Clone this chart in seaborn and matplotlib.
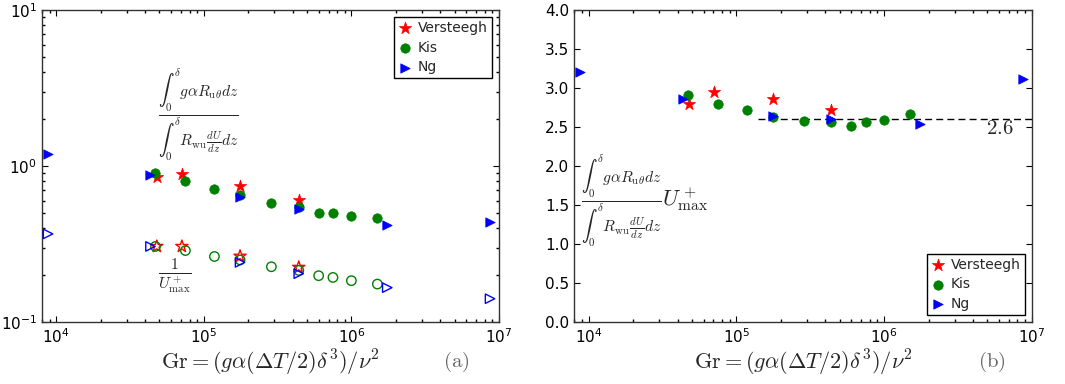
import numpy as np
import pandas as pd
import matplotlib
matplotlib.use("Agg")
import matplotlib.pyplot as plt
import seaborn as sns
from matplotlib.ticker import LogLocator, NullFormatter, MultipleLocator

# ---------------- data ----------------
series = ["Versteegh", "Kis", "Ng"]
gr_versteegh = [4.8e4, 7.1e4, 1.76e5, 4.4e5]
gr_kis = [4.7e4, 7.5e4, 1.18e5, 1.76e5, 2.87e5, 4.4e5, 6.0e5, 7.5e5, 1.0e6, 1.5e6]
gr_ng = [8.8e3, 4.35e4, 1.76e5, 4.4e5, 1.75e6, 8.7e6]

ratio_versteegh = [0.855, 0.893, 0.748, 0.606]
ratio_kis = [0.90, 0.80, 0.716, 0.652, 0.583, 0.544, 0.50, 0.496, 0.477, 0.467]
ratio_ng = [1.187, 0.88, 0.637, 0.533, 0.419, 0.44]

inv_umax_versteegh = [0.305, 0.305, 0.264, 0.224]
inv_umax_kis = [0.305, 0.287, 0.263, 0.25, 0.226, 0.214, 0.198, 0.193, 0.184, 0.175]
inv_umax_ng = [0.367, 0.305, 0.241, 0.204, 0.166, 0.141]

scaled_versteegh = [2.80, 2.946, 2.864, 2.719]
scaled_kis = [2.916, 2.80, 2.715, 2.634, 2.574, 2.570, 2.519, 2.566, 2.591, 2.672]
scaled_ng = [3.206, 2.860, 2.647, 2.608, 2.536, 3.116]

ref_level = 2.6
ref_start = 1.4e5
xticks = [1e4, 1e5, 1e6, 1e7]

# ---------------- style ----------------
sns.set_theme(style="white")
plt.rcParams.update({
    "font.family": ["DejaVu Sans"],
    "xtick.direction": "in", "ytick.direction": "in",
    "xtick.top": True, "ytick.right": True,
    "xtick.bottom": True, "ytick.left": True,
    "xtick.major.size": 4, "ytick.major.size": 4,
    "xtick.minor.size": 2, "ytick.minor.size": 2,
    "xtick.major.width": 0.8, "ytick.major.width": 0.8,
    "xtick.color": "black", "ytick.color": "black",
    "axes.edgecolor": "#333333", "axes.linewidth": 1.0,
    "xtick.labelsize": 11, "ytick.labelsize": 11,
})

RED, GREEN, BLUE = "#ff0000", "#008000", "#0000ff"
styles = {
    "Versteegh": dict(marker="*", color=RED, s=85),
    "Kis": dict(marker="o", color=GREEN, s=46),
    "Ng": dict(marker=">", color=BLUE, s=46),
}

gr = {"Versteegh": gr_versteegh, "Kis": gr_kis, "Ng": gr_ng}
ratio = {"Versteegh": ratio_versteegh, "Kis": ratio_kis, "Ng": ratio_ng}
inv = {"Versteegh": inv_umax_versteegh, "Kis": inv_umax_kis, "Ng": inv_umax_ng}
scaled = {"Versteegh": scaled_versteegh, "Kis": scaled_kis, "Ng": scaled_ng}

fig = plt.figure(figsize=(10.65, 3.84), dpi=100)
axa = fig.add_axes([0.0394, 0.1615, 0.4291, 0.8125])
axb = fig.add_axes([0.5393, 0.1615, 0.4295, 0.8125])

def draw(ax, yd, filled=True):
    handles = []
    for name in series:
        st = styles[name]
        df = pd.DataFrame({"Gr": gr[name], "y": yd[name]})
        if filled:
            sns.scatterplot(data=df, x="Gr", y="y", ax=ax, marker=st["marker"],
                            s=st["s"], color=st["color"], edgecolor=st["color"],
                            linewidth=0.5, legend=False, zorder=3)
        else:
            sns.scatterplot(data=df, x="Gr", y="y", ax=ax, marker=st["marker"],
                            s=st["s"], facecolor="none", edgecolor=st["color"],
                            linewidth=1.0, legend=False, zorder=3)
        handles.append(ax.collections[-1])
    return handles

def make_legend(ax, handles, loc):
    leg = ax.legend(handles, series, loc=loc, fontsize=10, frameon=True,
                    fancybox=False, framealpha=1, edgecolor="black",
                    scatterpoints=1, handletextpad=0.4, borderaxespad=0.5,
                    handlelength=1.0, labelspacing=0.4, borderpad=0.3)
    leg.get_frame().set_linewidth(1.0)
    return leg

XLABEL = r"$\mathrm{Gr}=(g\alpha(\Delta T/2)\delta^3)/\nu^2$"

# ---- panel (a)
ha = draw(axa, ratio, filled=True)
draw(axa, inv, filled=False)
axa.set_xscale("log")
axa.set_yscale("log")
axa.set_xlim(8e3, 1e7)
axa.set_ylim(0.1, 10)
axa.set_xticks(xticks)
axa.xaxis.set_minor_locator(LogLocator(base=10, subs=np.arange(2, 10)))
axa.xaxis.set_minor_formatter(NullFormatter())
axa.yaxis.set_minor_locator(LogLocator(base=10, subs=np.arange(2, 10)))
axa.yaxis.set_minor_formatter(NullFormatter())
axa.set_ylabel("")
axa.set_xlabel(XLABEL, fontsize=16, math_fontfamily="cm", labelpad=2)
make_legend(axa, ha, "upper right")

frac = (r"$\frac{\int_0^{\delta} g\alpha R_{\mathrm{u}\theta} dz}"
        r"{\int_0^{\delta} R_{\mathrm{wu}}\frac{dU}{dz} dz}$")
axa.text(0.255, 0.665, frac, transform=axa.transAxes, fontsize=16,
         math_fontfamily="cm", ha="left", va="center")
axa.text(0.255, 0.145, r"$\frac{1}{U_{\mathrm{max}}^+}$", transform=axa.transAxes,
         fontsize=16, math_fontfamily="cm", ha="left", va="center")
fig.text(0.428, 0.057, r"$\mathrm{(a)}$", fontsize=15, math_fontfamily="cm",
         color="#666666", ha="center", va="center")

# ---- panel (b)
hb = draw(axb, scaled, filled=True)
axb.set_xscale("log")
axb.set_xlim(8e3, 1e7)
axb.set_ylim(0, 4)
axb.set_xticks(xticks)
axb.xaxis.set_minor_locator(LogLocator(base=10, subs=np.arange(2, 10)))
axb.xaxis.set_minor_formatter(NullFormatter())
axb.yaxis.set_major_locator(MultipleLocator(0.5))
axb.yaxis.set_major_formatter(matplotlib.ticker.FormatStrFormatter("%.1f"))
axb.set_ylabel("")
axb.plot([ref_start, 1e7], [ref_level, ref_level], ls="--", color="black",
         lw=1.0, dashes=(5, 3), zorder=2)
axb.text(0.93, 0.622, r"$2.6$", transform=axb.transAxes, fontsize=15,
         math_fontfamily="cm", ha="center", va="center")
axb.set_xlabel(XLABEL, fontsize=16, math_fontfamily="cm", labelpad=2)
make_legend(axb, hb, "lower right")
fracb = (r"$\frac{\int_0^{\delta} g\alpha R_{\mathrm{u}\theta} dz}"
         r"{\int_0^{\delta} R_{\mathrm{wu}}\frac{dU}{dz} dz}U_{\mathrm{max}}^+$")
axb.text(0.015, 0.39, fracb, transform=axb.transAxes, fontsize=16,
         math_fontfamily="cm", ha="left", va="center")
fig.text(0.931, 0.057, r"$\mathrm{(b)}$", fontsize=15, math_fontfamily="cm",
         color="#666666", ha="center", va="center")

for ax in (axa, axb):
    for sp in ax.spines.values():
        sp.set_visible(True)
        sp.set_color("#333333")

fig.savefig("out.png", dpi=100)
